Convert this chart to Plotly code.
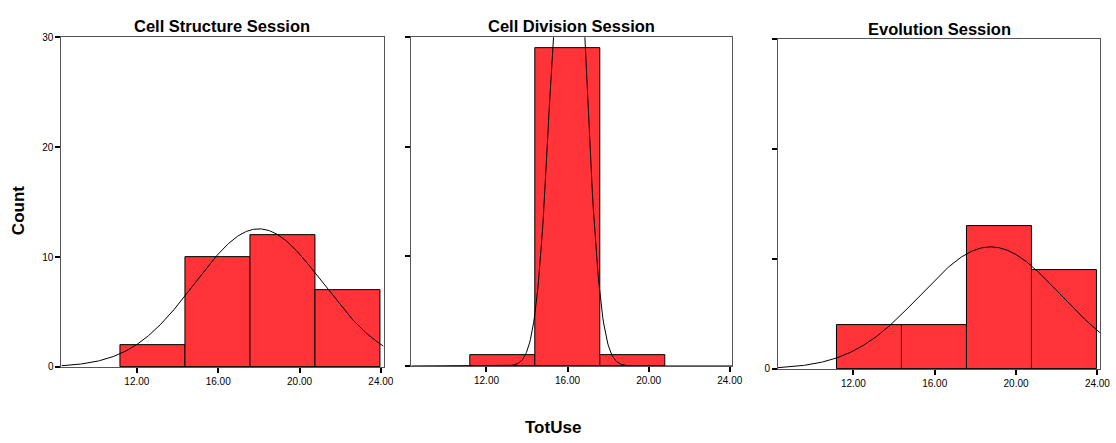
import numpy as np
import plotly.graph_objects as go

# ---- data ----
bin_centers = [12.8, 16.0, 19.2, 22.4]
bin_width = 3.2
counts_structure = [2, 10, 12, 7]
counts_division = [1, 29, 1, 0]
counts_evolution = [4, 4, 13, 9]
titles = ["Cell Structure Session", "Cell Division Session", "Evolution Session"]
# fitted normal curve parameters (mean, sd) per session
normal_params = [(18.0, 3.15), (16.05, 0.76), (18.75, 3.45)]
x_ticks = [12, 16, 20, 24]
x_ticklabels = ["12.00", "16.00", "20.00", "24.00"]
y_ticks = [0, 10, 20, 30]

W, H = 1116, 443
FONT = "Liberation Sans, Arial, sans-serif"
RED = "#FF3338"

# panel pixel boxes: (left, right, top, bottom)
boxes = [(62, 387, 32, 371), (415, 739, 32, 370), (785, 1110, 34, 373)]
title_y = [21, 21, 24]
xrange_ = [8.29, 24.13]

fig = go.Figure()
all_counts = [counts_structure, counts_division, counts_evolution]
for i, (counts, (mu, sd)) in enumerate(zip(all_counts, normal_params)):
    ax = "" if i == 0 else str(i + 1)
    n = sum(counts)
    xs = [c for c, v in zip(bin_centers, counts) if v > 0]
    ys = [v for v in counts if v > 0]
    fig.add_trace(go.Bar(x=xs, y=ys, width=bin_width,
                         marker=dict(color=RED, line=dict(color="black", width=1)),
                         xaxis="x" + ax, yaxis="y" + ax, showlegend=False,
                         hoverinfo="skip"))
    xc = np.linspace(xrange_[0], xrange_[1], 400)
    yc = n * bin_width / (sd * np.sqrt(2 * np.pi)) * np.exp(-0.5 * ((xc - mu) / sd) ** 2)
    fig.add_trace(go.Scatter(x=xc, y=yc, mode="lines",
                             line=dict(color="black", width=1),
                             xaxis="x" + ax, yaxis="y" + ax, showlegend=False,
                             hoverinfo="skip"))

layout = dict(width=W, height=H, margin=dict(l=0, r=0, t=0, b=0),
              paper_bgcolor="white", plot_bgcolor="white", bargap=0,
              font=dict(family=FONT, color="black"))
annotations = []
for i, (l, r, t, b) in enumerate(boxes):
    ax = "" if i == 0 else str(i + 1)
    if i == 0:
        ytext = [str(v) for v in y_ticks]
    elif i == 1:
        ytext = ["", "", "", ""]
    else:
        ytext = ["0", "", "", ""]
    layout["xaxis" + ax] = dict(domain=[l / W, r / W], range=xrange_, anchor="y" + ax,
                                tickvals=x_ticks, ticktext=x_ticklabels,
                                ticks="outside", ticklen=5, tickwidth=2, tickcolor="black",
                                showline=True, linecolor="#555", linewidth=1, mirror=True,
                                showgrid=False, zeroline=False,
                                tickfont=dict(size=10, family=FONT))
    layout["yaxis" + ax] = dict(domain=[1 - b / H, 1 - t / H], range=[0, 30], anchor="x" + ax,
                                tickvals=y_ticks, ticktext=ytext,
                                ticks="outside", ticklen=5, tickwidth=2, tickcolor="black",
                                showline=True, linecolor="#555", linewidth=1, mirror=True,
                                showgrid=False, zeroline=False,
                                tickfont=dict(size=10, family=FONT))
    annotations.append(dict(text="<b>" + titles[i] + "</b>", x=(l + r) / 2 / W,
                            y=1 - title_y[i] / H, xref="paper", yref="paper",
                            showarrow=False, font=dict(size=16.5, family=FONT),
                            xanchor="center", yanchor="middle"))
annotations.append(dict(text="<b>Count</b>", x=18 / W, y=1 - 210 / H, xref="paper", yref="paper",
                        showarrow=False, textangle=-90, font=dict(size=17, family=FONT),
                        xanchor="center", yanchor="middle"))
annotations.append(dict(text="<b>TotUse</b>", x=558 / W, y=1 - 433 / H, xref="paper", yref="paper",
                        showarrow=False, font=dict(size=17, family=FONT),
                        xanchor="center", yanchor="middle"))
layout["annotations"] = annotations
fig.update_layout(**layout)
fig.write_html("out.html", config={"displayModeBar": False},
               post_script="document.body.style.margin='0';document.body.style.overflow='hidden';")
